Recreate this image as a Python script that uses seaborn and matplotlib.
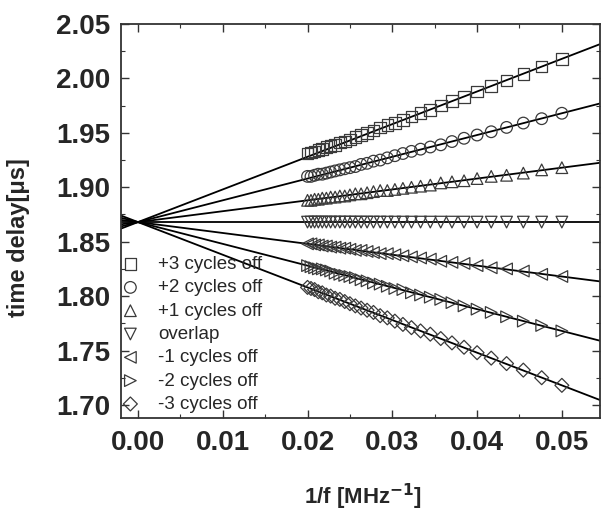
import numpy as np
import pandas as pd
import matplotlib
matplotlib.use("Agg")
import matplotlib.pyplot as plt
import seaborn as sns
from matplotlib.ticker import MultipleLocator, FormatStrFormatter

# frequencies 20..50 MHz -> x = 1/f
freq = [20, 21, 22, 23, 24, 25, 26, 27, 28, 29, 30, 31, 32, 33, 34, 35,
        36, 37, 38, 39, 40, 41, 42, 43, 44, 45, 46, 47, 48, 49, 50]
inv_f = [1.0 / f for f in freq]

# time delay [us] for each series
plus3 = [2.018, 2.011, 2.004, 1.998, 1.993, 1.988, 1.983, 1.979, 1.975, 1.971, 1.968,
         1.965, 1.962, 1.959, 1.957, 1.955, 1.952, 1.950, 1.948, 1.946, 1.944, 1.942,
         1.941, 1.939, 1.938, 1.937, 1.935, 1.934, 1.933, 1.932, 1.931]
plus2 = [1.968, 1.963, 1.959, 1.955, 1.951, 1.948, 1.945, 1.942, 1.939, 1.937, 1.935,
         1.933, 1.931, 1.929, 1.927, 1.925, 1.924, 1.922, 1.921, 1.919, 1.918, 1.917,
         1.916, 1.915, 1.914, 1.913, 1.912, 1.912, 1.911, 1.910, 1.910]
plus1 = [1.918, 1.916, 1.913, 1.911, 1.910, 1.908, 1.906, 1.905, 1.904, 1.902, 1.901,
         1.900, 1.899, 1.898, 1.897, 1.897, 1.896, 1.895, 1.894, 1.894, 1.893, 1.892,
         1.892, 1.891, 1.891, 1.890, 1.890, 1.889, 1.889, 1.888, 1.888]
overlap = [1.868] * 31
minus1 = [1.818, 1.820, 1.823, 1.825, 1.826, 1.828, 1.830, 1.831, 1.832, 1.834, 1.835,
          1.836, 1.837, 1.838, 1.839, 1.839, 1.840, 1.841, 1.842, 1.842, 1.843, 1.844,
          1.844, 1.845, 1.845, 1.846, 1.846, 1.847, 1.847, 1.848, 1.848]
minus2 = [1.768, 1.773, 1.777, 1.781, 1.785, 1.788, 1.791, 1.794, 1.797, 1.799, 1.801,
          1.803, 1.806, 1.807, 1.809, 1.811, 1.812, 1.814, 1.815, 1.817, 1.818, 1.819,
          1.820, 1.821, 1.823, 1.824, 1.825, 1.825, 1.826, 1.827, 1.828]
minus3 = [1.718, 1.725, 1.732, 1.738, 1.743, 1.748, 1.753, 1.757, 1.761, 1.765, 1.768,
          1.771, 1.774, 1.777, 1.780, 1.782, 1.785, 1.787, 1.789, 1.791, 1.793, 1.795,
          1.797, 1.798, 1.800, 1.801, 1.803, 1.804, 1.806, 1.807, 1.808]

labels = ["+3 cycles off", "+2 cycles off", "+1 cycles off", "overlap",
          "-1 cycles off", "-2 cycles off", "-3 cycles off"]
series = [plus3, plus2, plus1, overlap, minus1, minus2, minus3]
markers = ["s", "o", "^", "v", "<", ">", "D"]

# linear fits: delay = intercept + slope * (1/f)
fit_intercept = 1.868
fit_slopes = [3, 2, 1, 0, -1, -2, -3]

sns.set_style("ticks")
plt.rcParams["font.family"] = ["Liberation Sans", "DejaVu Sans"]

fig = plt.figure(figsize=(6.02, 5.12), dpi=100)
ax = fig.add_axes([0.201, 0.1836, 0.7957, 0.7695])

for lab, ys, m in zip(labels, series, markers):
    sns.scatterplot(x=inv_f, y=ys, ax=ax, marker=m, s=70 if m != "D" else 50,
                    facecolors="none", edgecolors="#3a3a3a", linewidths=0.9,
                    label=lab, zorder=3)

for k in fit_slopes:
    ax.axline((0, fit_intercept), slope=k, color="black", lw=1.3, zorder=2)

ax.set_xlim(-0.002, 0.0545)
ax.set_ylim(1.688, 2.05)
ax.xaxis.set_major_locator(MultipleLocator(0.01))
ax.xaxis.set_minor_locator(MultipleLocator(0.005))
ax.yaxis.set_major_locator(MultipleLocator(0.05))
ax.yaxis.set_minor_locator(MultipleLocator(0.025))
ax.xaxis.set_major_formatter(FormatStrFormatter("%.2f"))
ax.yaxis.set_major_formatter(FormatStrFormatter("%.2f"))

ax.tick_params(which="both", direction="in", top=True, right=True, color="#333333")
ax.tick_params(which="major", length=6, width=1.0)
ax.tick_params(which="minor", length=3, width=0.8)
ax.tick_params(axis="x", which="major", labelsize=20, pad=9)
ax.tick_params(axis="y", which="major", labelsize=20, pad=8)
for t in ax.get_xticklabels() + ax.get_yticklabels():
    t.set_fontweight("bold")

for sp in ax.spines.values():
    sp.set_linewidth(1.3)
    sp.set_color("#333333")

ax.set_ylabel("time delay[\u03bcs]", fontsize=17, fontweight="bold")
ax.set_xlabel(r"1/f [MHz$^{\mathbf{-1}}$]", fontsize=16, fontweight="bold")
ax.yaxis.set_label_coords(-0.19, 0.457)
ax.xaxis.set_label_coords(0.505, -0.162)

ax.legend(loc="lower left", bbox_to_anchor=(0, 0.013), frameon=False, fontsize=13.5,
          borderaxespad=0, borderpad=0, handlelength=1.0, handletextpad=0.97,
          labelspacing=0.33)

fig.savefig("out.png", dpi=100)
